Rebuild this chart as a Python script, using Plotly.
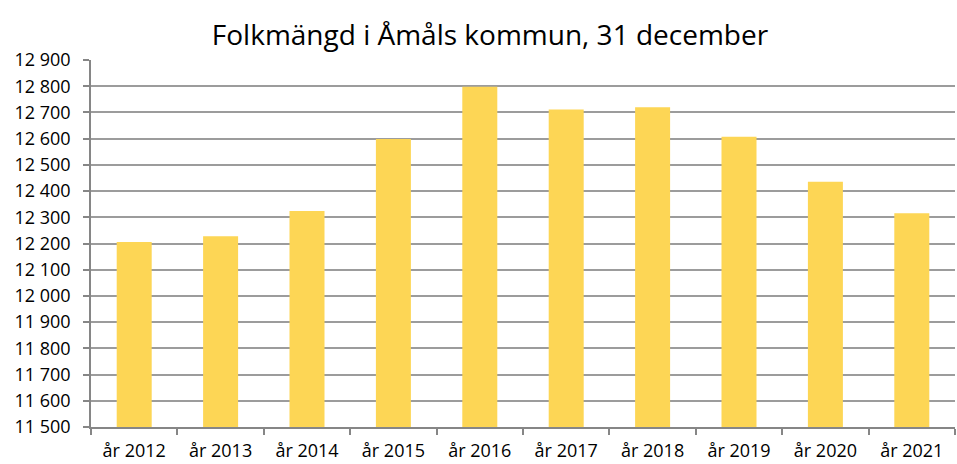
import plotly.graph_objects as go

years = ["år 2012", "år 2013", "år 2014", "år 2015", "år 2016",
         "år 2017", "år 2018", "år 2019", "år 2020", "år 2021"]
population = [12206, 12228, 12324, 12599, 12798, 12711, 12720, 12607, 12436, 12315]
y_ticks = list(range(11500, 12901, 100))
y_tick_labels = [f"{v:,}".replace(",", " ") for v in y_ticks]

fig = go.Figure(go.Bar(
    x=years, y=population,
    marker=dict(color="#FDD655", line=dict(width=0)),
    width=0.405,
))

fig.update_layout(
    width=957, height=464,
    margin=dict(l=91, r=2, t=60, b=37, autoexpand=False),
    paper_bgcolor="white", plot_bgcolor="white",
    title=dict(text="Folkmängd i Åmåls kommun, 31 december",
               x=0.512, xanchor="center", y=0.924, yanchor="middle",
               font=dict(family="Open Sans", size=28, color="#000000")),
    font=dict(family="Open Sans", color="#000000"),
    showlegend=False,
)
fig.update_xaxes(
    type="category", automargin=False,
    showline=True, linecolor="#868686", linewidth=1.5,
    ticks="outside", tickson="boundaries", ticklen=6, tickcolor="#868686", tickwidth=1.5,
    tickfont=dict(size=18, family="Open Sans"),
    ticklabelstandoff=7,
    showgrid=False,
)
fig.update_yaxes(
    range=[11500, 12900], automargin=False,
    tickvals=y_ticks, ticktext=y_tick_labels,
    showline=True, linecolor="#868686", linewidth=1.5,
    ticks="outside", ticklen=6, tickcolor="#868686", tickwidth=1.5,
    tickfont=dict(size=18, family="Open Sans"),
    ticklabelstandoff=9,
    showgrid=True, gridcolor="#9C9C9C", gridwidth=1.8,
    zeroline=False,
)

fig.write_html("out.html",
               config={"displayModeBar": False},
               post_script="document.body.style.margin='0';document.body.style.overflow='hidden';")
